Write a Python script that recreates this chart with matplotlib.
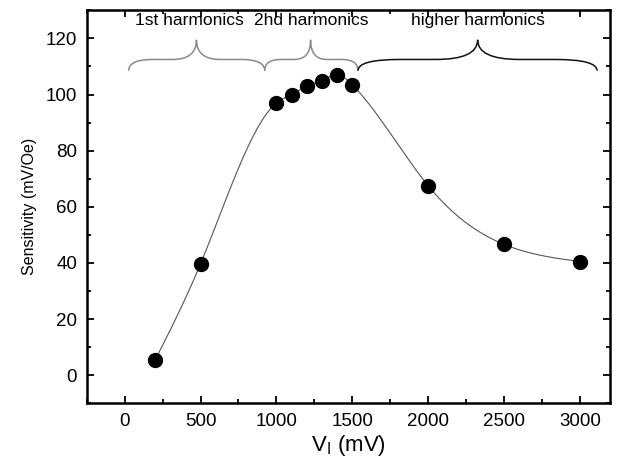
import numpy as np
import matplotlib
matplotlib.use("Agg")
from matplotlib import pyplot as plt
from matplotlib.path import Path
from matplotlib.patches import PathPatch
from matplotlib.ticker import MultipleLocator

plt.rcParams['font.family'] = ['Liberation Sans', 'DejaVu Sans']
plt.rcParams['mathtext.fontset'] = 'custom'
plt.rcParams['mathtext.rm'] = 'Liberation Sans'

# data
v_mv = [200, 500, 1000, 1100, 1200, 1300, 1400, 1500, 2000, 2500, 3000]
sens = [5.3, 39.7, 97.0, 100.0, 103.0, 105.0, 107.0, 103.5, 67.5, 46.6, 40.5]

regions = ["1st harmonics", "2hd harmonics", "higher harmonics"]
region_spans = [(26, 923), (923, 1537), (1537, 3113)]
region_tips = [473, 1225, 2326]
region_colors = ["#8a8a8a", "#8a8a8a", "#111111"]


def natural_spline(x, y, n=400):
    x = np.asarray(x, float); y = np.asarray(y, float)
    m = len(x); h = np.diff(x)
    A = np.zeros((m, m)); b = np.zeros(m)
    A[0, 0] = A[-1, -1] = 1
    for i in range(1, m - 1):
        A[i, i - 1] = h[i - 1]; A[i, i] = 2 * (h[i - 1] + h[i]); A[i, i + 1] = h[i]
        b[i] = 6 * ((y[i + 1] - y[i]) / h[i] - (y[i] - y[i - 1]) / h[i - 1])
    M = np.linalg.solve(A, b)
    xs = np.linspace(x[0], x[-1], n)
    idx = np.clip(np.searchsorted(x, xs) - 1, 0, m - 2)
    x0, x1 = x[idx], x[idx + 1]; hh = x1 - x0
    ys = (M[idx] * (x1 - xs) ** 3 + M[idx + 1] * (xs - x0) ** 3) / (6 * hh) \
        + (y[idx] / hh - M[idx] * hh / 6) * (x1 - xs) \
        + (y[idx + 1] / hh - M[idx + 1] * hh / 6) * (xs - x0)
    return xs, ys


def brace(ax, x0, x1, xm, color, yb=108.5, yl=112.5, yt=119.5):
    a = min(xm - x0, x1 - xm) * 0.35
    verts = [(x0, yb), (x0, yl), (x0 + a, yl),
             (xm - a, yl), (xm, yl), (xm, yt),
             (xm, yl), (xm + a, yl),
             (x1 - a, yl), (x1, yl), (x1, yb)]
    codes = [Path.MOVETO, Path.CURVE3, Path.CURVE3,
             Path.LINETO, Path.CURVE3, Path.CURVE3,
             Path.CURVE3, Path.CURVE3,
             Path.LINETO, Path.CURVE3, Path.CURVE3]
    ax.add_patch(PathPatch(Path(verts, codes), fill=False, ec=color, lw=1.1))


fig = plt.figure(figsize=(6.24, 4.70), dpi=100)
ax = fig.add_axes([0.139, 0.142, 0.839, 0.836])

xs, ys = natural_spline(v_mv, sens)
ax.plot(xs, ys, color="#555555", lw=0.8)
ax.plot(v_mv, sens, "o", color="black", markersize=10)

for name, (s0, s1), tip, c in zip(regions, region_spans, region_tips, region_colors):
    brace(ax, s0, s1, tip, c)
    ax.text((s0 + s1) / 2 if name != "1st harmonics" else 429, 126.3, name,
            ha="center", va="center", fontsize=12.5, color="black")

ax.set_xlim(-250, 3200)
ax.set_ylim(-10, 130)
ax.xaxis.set_major_locator(MultipleLocator(500))
ax.xaxis.set_minor_locator(MultipleLocator(250))
ax.yaxis.set_major_locator(MultipleLocator(20))
ax.yaxis.set_minor_locator(MultipleLocator(10))
ax.tick_params(which="both", direction="in", top=True, right=True, width=1.3)
ax.tick_params(which="major", length=5, labelsize=13.5, pad=7)
ax.tick_params(which="minor", length=3)
for s in ax.spines.values():
    s.set_linewidth(1.8)

ax.set_xlabel(r"V$_\mathregular{I}$ (mV)", fontsize=16, labelpad=2)
ax.set_ylabel("Sensitivity (mV/Oe)", fontsize=11.5, labelpad=6)

fig.savefig("out.png", dpi=100)
